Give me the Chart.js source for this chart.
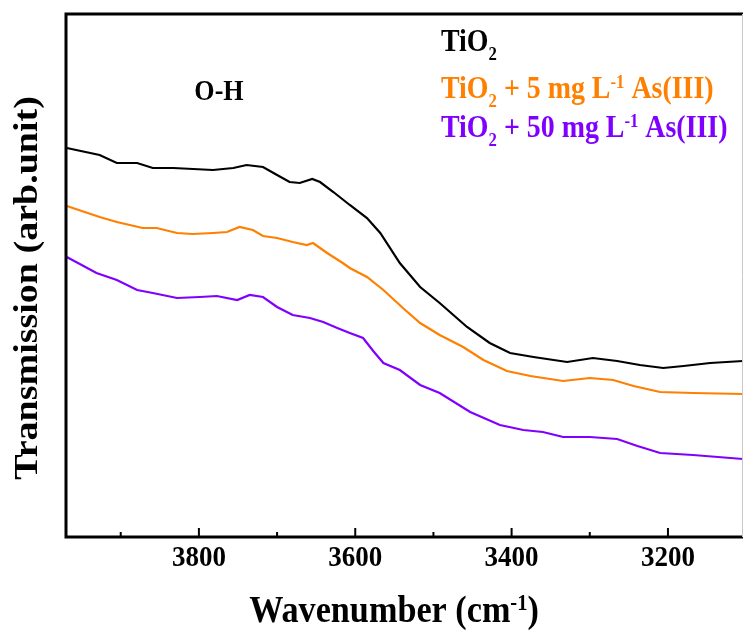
<!DOCTYPE html>
<html>
<head>
<meta charset="utf-8">
<script src="https://cdn.jsdelivr.net/npm/chart.js@4.4.0/dist/chart.umd.min.js"></script>
<style>
  html, body { margin: 0; padding: 0; background: #fff; }
  #wrap { width: 744px; height: 640px; }
</style>
</head>
<body>
<div id="wrap"><canvas id="ftir-chart"></canvas></div>
<script>
// wavenumber (cm-1) readings, one list per sample
const tio2_wn = [3969, 3927, 3905, 3879, 3859, 3833, 3782, 3756, 3739, 3718, 3700, 3684, 3671, 3655, 3645, 3628, 3607, 3585, 3568, 3543, 3517, 3492, 3457, 3428, 3402, 3372, 3329, 3296, 3265, 3236, 3206, 3180, 3146, 3104];
const tio2_t = [389, 382, 374, 374, 369, 369, 367, 369, 372, 370, 362, 355, 354, 358, 355, 345, 332, 319, 304, 274, 250, 234, 210, 194, 184, 180, 175, 179, 176, 172, 169, 171, 174, 176];

const as5_wn = [3969, 3927, 3905, 3872, 3854, 3828, 3808, 3782, 3764, 3748, 3731, 3718, 3700, 3680, 3662, 3654, 3636, 3616, 3607, 3585, 3564, 3539, 3517, 3492, 3462, 3436, 3406, 3376, 3334, 3300, 3270, 3244, 3210, 3168, 3104];
const as5_t = [331, 320, 315, 309, 309, 304, 303, 304, 305, 310, 307, 301, 299, 295, 292, 294, 284, 274, 269, 260, 247, 229, 214, 202, 190, 177, 166, 161, 156, 159, 157, 151, 145, 144, 143];

const as50_wn = [3969, 3931, 3905, 3879, 3859, 3828, 3799, 3777, 3751, 3735, 3718, 3700, 3680, 3658, 3641, 3623, 3607, 3590, 3577, 3564, 3543, 3517, 3492, 3453, 3415, 3385, 3360, 3334, 3300, 3265, 3239, 3210, 3168, 3104];
const as50_t = [280, 264, 257, 247, 244, 239, 240, 241, 237, 242, 240, 230, 222, 219, 215, 209, 204, 199, 186, 174, 167, 152, 144, 125, 112, 107, 105, 100, 100, 98, 91, 84, 82, 78];

// tick values on the wavenumber axis
const major_ticks = [3800, 3600, 3400, 3200];
const minor_ticks = [3900, 3700, 3500, 3300];

const FONT = '"Liberation Serif", "Times New Roman", serif';
const SQUISH = 0.9; // the original figure text is a bit narrow

//turn two lists into {x, y} points
function toPoints(xs, ys) {
    return xs.map((v, i) => ({ x: v, y: ys[i] }));
}

//draw text with sub / superscript parts
function drawRich(ctx, parts, x, y, size, color, align) {
    ctx.save();
    ctx.fillStyle = color;
    ctx.textBaseline = 'alphabetic';
    let total = 0;
    parts.forEach(p => {
        let s = p[1] ? size * 0.6 : size;
        ctx.font = 'bold ' + s + 'px ' + FONT;
        total += ctx.measureText(p[0]).width;
    });
    ctx.translate(x, y);
    ctx.scale(SQUISH, 1);
    let cx = align === 'center' ? -total / 2 : 0;
    parts.forEach(p => {
        let s = p[1] ? size * 0.6 : size;
        ctx.font = 'bold ' + s + 'px ' + FONT;
        let dy = 0;
        if (p[1] === 'sub') dy = size * 0.3;
        if (p[1] === 'sup') dy = -size * 0.32;
        ctx.fillText(p[0], cx, dy);
        cx += ctx.measureText(p[0]).width;
    });
    ctx.restore();
}

//frame, inward ticks, labels and annotations
const frameAndText = {
    id: 'frameAndText',
    afterDraw(chart) {
        const ctx = chart.ctx;
        const area = chart.chartArea;
        const xs = chart.scales.x;
        ctx.save();

        ctx.strokeStyle = '#000';
        ctx.lineWidth = 3;
        ctx.lineJoin = 'miter';
        ctx.beginPath();
        ctx.moveTo(area.right, area.top);
        ctx.lineTo(area.left, area.top);
        ctx.lineTo(area.left, area.bottom);
        ctx.lineTo(area.right, area.bottom);
        ctx.stroke();

        ctx.strokeStyle = '#c8c8c8';
        ctx.lineWidth = 1;
        ctx.beginPath();
        ctx.moveTo(area.right - 0.5, area.top);
        ctx.lineTo(area.right - 0.5, area.bottom);
        ctx.stroke();

        //ticks pointing into the plot
        ctx.strokeStyle = '#000';
        ctx.lineWidth = 2;
        minor_ticks.forEach(v => {
            let px = xs.getPixelForValue(v);
            ctx.beginPath();
            ctx.moveTo(px, area.bottom);
            ctx.lineTo(px, area.bottom - 5);
            ctx.stroke();
        });
        major_ticks.forEach(v => {
            let px = xs.getPixelForValue(v);
            ctx.beginPath();
            ctx.moveTo(px, area.bottom);
            ctx.lineTo(px, area.bottom - 9);
            ctx.stroke();
            drawRich(ctx, [[String(v)]], px, area.bottom + 29, 30, '#000', 'center');
        });

        //axis titles
        drawRich(ctx, [['Wavenumber (cm'], ['-1', 'sup'], [')']], 394, 622, 38, '#000', 'center');

        ctx.save();
        ctx.translate(28, 288);
        ctx.rotate(-Math.PI / 2);
        ctx.scale(1, SQUISH);
        ctx.font = 'bold 38px ' + FONT;
        ctx.fillStyle = '#000';
        ctx.textAlign = 'center';
        ctx.textBaseline = 'middle';
        ctx.fillText('Transmission (arb.unit)', 0, 0);
        ctx.restore();

        //legend text
        drawRich(ctx, [['TiO'], ['2', 'sub']], 441, 51, 31, '#000');
        drawRich(ctx, [['TiO'], ['2', 'sub'], [' + 5 mg L'], ['-1', 'sup'], [' As(III)']], 441, 98, 31, '#ff7f00');
        drawRich(ctx, [['TiO'], ['2', 'sub'], [' + 50 mg L'], ['-1', 'sup'], [' As(III)']], 441, 137, 31, '#7f00ff');

        drawRich(ctx, [['O-H']], 219, 100, 29, '#000', 'center');
        ctx.restore();
    }
};

let ftir_ctx = document.getElementById('ftir-chart');

let ftir_chart = new Chart(ftir_ctx, {
    type: 'line',
    data: {
        datasets: [{
            label: 'TiO2',
            data: toPoints(tio2_wn, tio2_t),
            borderColor: '#000000',
            borderWidth: 2.2,
            pointRadius: 0,
            tension: 0
        }, {
            label: 'TiO2 + 5 mg L-1 As(III)',
            data: toPoints(as5_wn, as5_t),
            borderColor: '#ff7f00',
            borderWidth: 2.2,
            pointRadius: 0,
            tension: 0
        }, {
            label: 'TiO2 + 50 mg L-1 As(III)',
            data: toPoints(as50_wn, as50_t),
            borderColor: '#7f00ff',
            borderWidth: 2.2,
            pointRadius: 0,
            tension: 0
        }]
    },
    options: {
        responsive: true,
        maintainAspectRatio: false,
        animation: false,
        layout: { padding: { left: 66, top: 14, right: 1, bottom: 0 } },
        plugins: {
            legend: { display: false },
            tooltip: { enabled: false }
        },
        scales: {
            x: {
                type: 'linear',
                reverse: true,
                min: 3104,
                max: 3970,
                grid: { display: false },
                border: { display: false },
                ticks: { display: false },
                afterFit: (scale) => { scale.height = 103; }
            },
            y: {
                display: false,
                min: 0,
                max: 523
            }
        }
    },
    plugins: [frameAndText]
});
</script>
</body>
</html>
